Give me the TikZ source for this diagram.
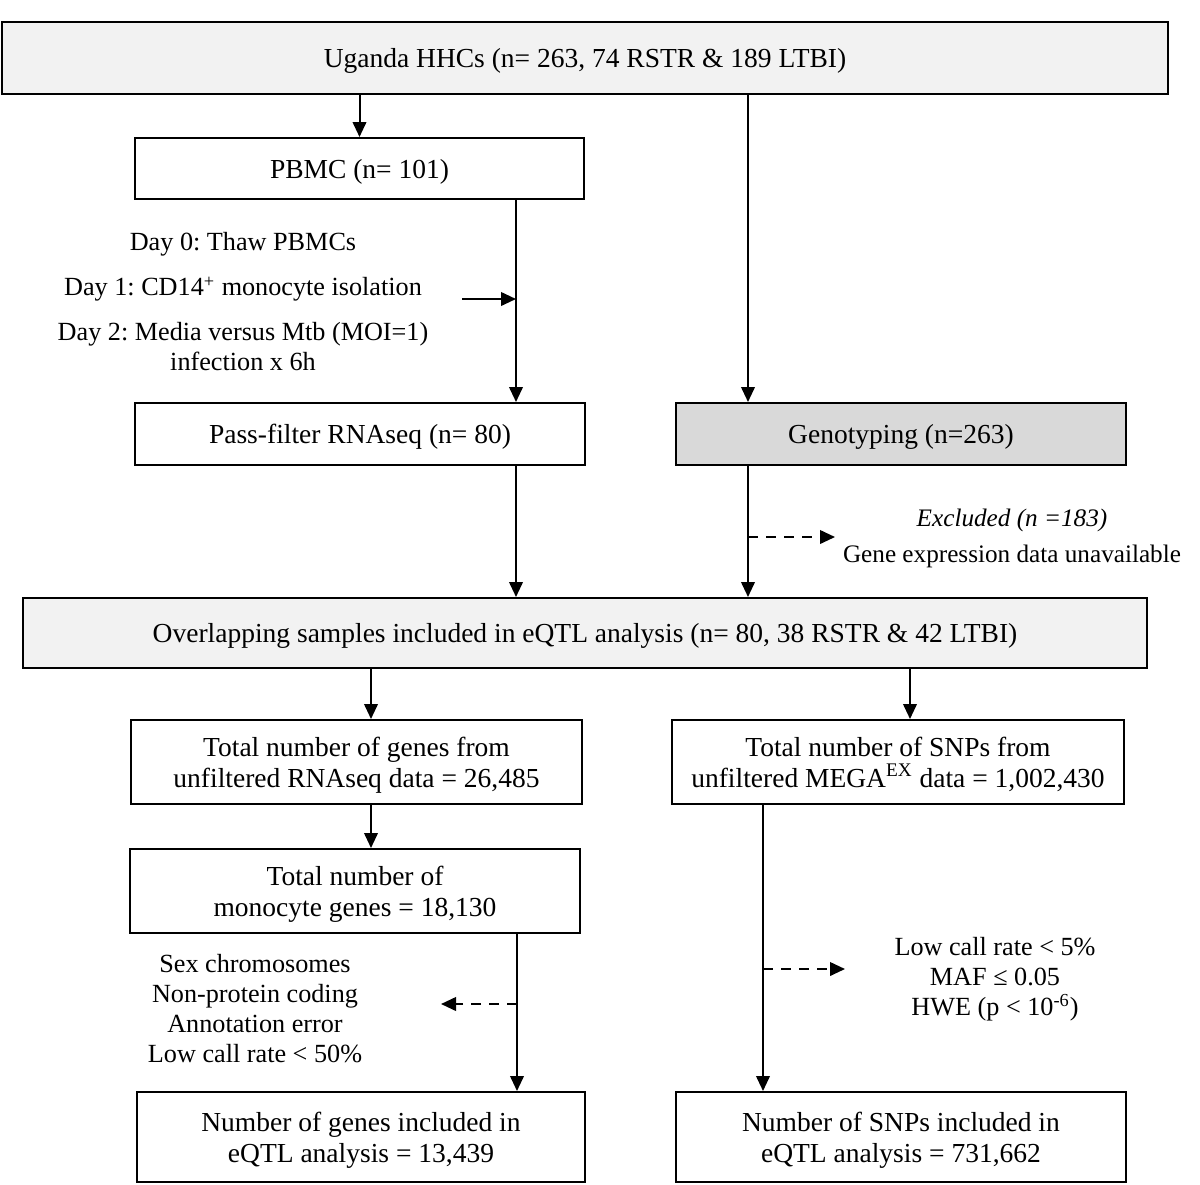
\documentclass[tikz,border=0pt]{standalone}
\usepackage{fontspec}
\setmainfont{Liberation Serif}
\usepackage{xcolor}
\usepackage{tikz}
\usetikzlibrary{arrows.meta,positioning}
\frenchspacing

\definecolor{paleshade}{HTML}{F2F2F2}
\definecolor{midshade}{HTML}{D9D9D9}

\begin{document}
\begin{tikzpicture}[x=0.5pt, y=-0.5pt,
    box/.style={draw, line width=1pt, align=center, inner sep=0pt, text depth=0pt,
      font=\fontsize{13.75}{15.5}\selectfont},
    arr/.style={line width=1pt, -{Triangle[length=7.5pt, width=6.8pt]}},
    dasharr/.style={arr, dash pattern=on 5pt off 4pt},
    note/.style={align=center, inner sep=0pt, font=\fontsize{13.1}{15}\selectfont}]
  \useasboundingbox (0,0) rectangle (1200,1184);

  % boxes
  \node[box] (HHC) [fill=paleshade, minimum width=583pt, minimum height=36pt] at (585,58) {Uganda HHCs (n= 263, 74 RSTR \& 189 LTBI)};
  \node[box] (PBMC) [minimum width=224.5pt, minimum height=30.5pt] at (359.5,168.5) {PBMC (n= 101)};
  \node[box] (RNA) [minimum width=225pt, minimum height=31pt] at (360,434) {Pass-filter RNAseq (n= 80)};
  \node[box] (GENO) [fill=midshade, minimum width=225pt, minimum height=31pt] at (901,434) {Genotyping (n=263)};
  \node[box] (OVL) [fill=paleshade, minimum width=562pt, minimum height=35pt] at (585,633) {Overlapping samples included in eQTL analysis (n= 80, 38 RSTR \& 42 LTBI)};
  \node[box] (GEN) [minimum width=225.5pt, minimum height=42pt] at (356.5,762) {Total number of genes from\\unfiltered RNAseq data = 26,485};
  \node[box] (SNP) [minimum width=226pt, minimum height=42pt] at (898,762) {Total number of SNPs from\\unfiltered MEGA\textsuperscript{EX} data = 1,002,430};
  \node[box] (MONO) [minimum width=225pt, minimum height=42pt] at (355,891) {Total number of\\monocyte genes = 18,130};
  \node[box] (FGEN) [minimum width=224pt, minimum height=45pt] at (361,1137) {Number of genes included in\\eQTL analysis = 13,439};
  \node[box] (FSNP) [minimum width=225pt, minimum height=45pt] at (901,1137) {Number of SNPs included in\\eQTL analysis = 731,662};

  % side notes
  \node[note] (D0) at (243,244) {Day 0: Thaw PBMCs};
  \node[note] (D1) at (243,289) {Day 1: CD14\textsuperscript{+} monocyte isolation};
  \node[note] (D2) at (243,347) {Day 2: Media versus Mtb (MOI=1)\\infection x 6h};
  \node[note] (EXC) [font=\fontsize{12.6}{14.5}\selectfont] at (1012,538) {\textit{Excluded (n =183)}\\[3.5pt]Gene expression data unavailable};
  \node[note] (GFLT) at (255,1009) {Sex chromosomes\\Non-protein coding\\Annotation error\\Low call rate < 50\%};
  \node[note] (SFLT) at (995,979) {Low call rate < 5\%\\MAF ≤ 0.05\\HWE (p < 10\textsuperscript{-6})};

  % line positions
  \coordinate (GX) at (748,0);
  \coordinate (LX) at (516,0);
  \coordinate (EX) at (371,0);
  \coordinate (SX) at (910,0);
  \coordinate (MX) at (517,0);
  \coordinate (TX) at (763,0);
  \coordinate (DA) at (462,299);
  \coordinate (DB) at (835,537);
  \coordinate (DC) at (441,1004);
  \coordinate (DD) at (845,969);

  \path
    (HHC.south -| PBMC) edge[arr] (PBMC)
    (HHC.south -| GX) edge[arr] (GENO.north -| GX)
    (PBMC.south -| LX) edge[arr] (RNA.north -| LX)
    (DA) edge[arr] (DA -| LX)
    (RNA.south -| LX) edge[arr] (OVL.north -| LX)
    (GENO.south -| GX) edge[arr] (OVL.north -| GX)
    (DB -| GX) edge[dasharr] (DB)
    (OVL.south -| EX) edge[arr] (GEN.north -| EX)
    (OVL.south -| SX) edge[arr] (SNP.north -| SX)
    (GEN.south -| EX) edge[arr] (MONO.north -| EX)
    (MONO.south -| MX) edge[arr] (FGEN.north -| MX)
    (DC -| MX) edge[dasharr] (DC)
    (SNP.south -| TX) edge[arr] (FSNP.north -| TX)
    (DD -| TX) edge[dasharr] (DD);
\end{tikzpicture}
\end{document}
